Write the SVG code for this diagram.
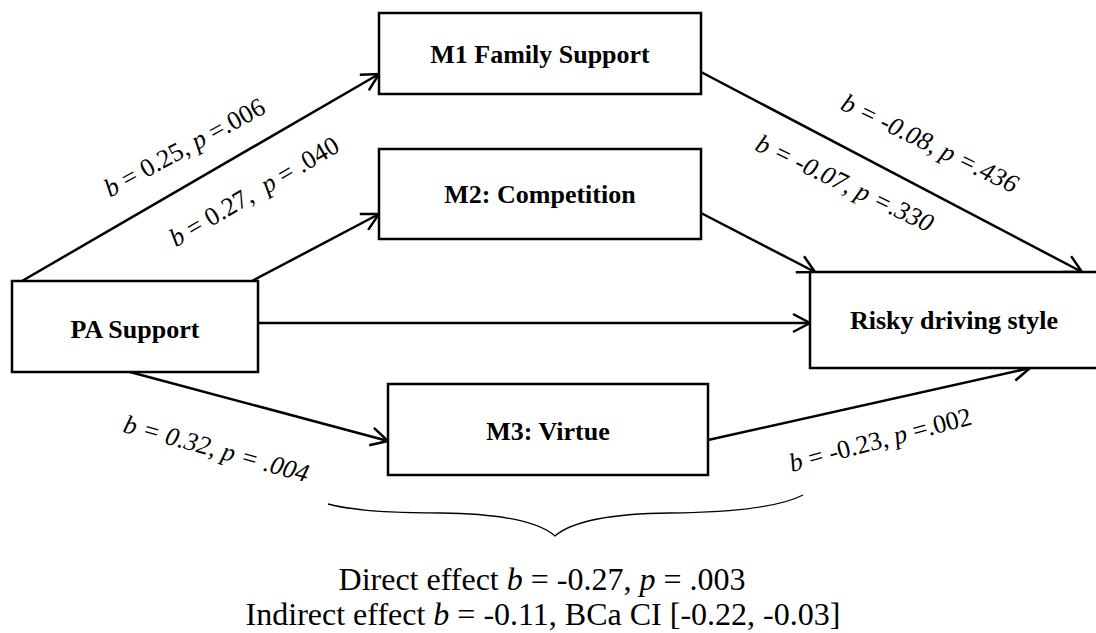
<svg xmlns="http://www.w3.org/2000/svg" width="1096" height="633" viewBox="0 0 1096 633">
<defs>
<style>
.box{fill:#fff;stroke:#000;stroke-width:2.5}
.node{font-family:"Liberation Serif","Times New Roman",serif;font-weight:bold;font-size:26px;text-anchor:middle;fill:#000}
.lbl{font-family:"Liberation Serif","Times New Roman",serif;font-size:26px;text-anchor:middle;fill:#000;white-space:pre}
.it{font-style:italic}
.edge{stroke:#000;stroke-width:2.5;fill:none;marker-end:url(#ah)}
.foot{font-family:"Liberation Serif","Times New Roman",serif;font-size:32px;text-anchor:middle;fill:#000}
</style>
<marker id="ah" markerUnits="userSpaceOnUse" markerWidth="24" markerHeight="24" viewBox="-20 -12 24 24" refX="0" refY="0" orient="auto">
<path d="M-17,-9 L0,0 L-17,9" fill="none" stroke="#000" stroke-width="2.5"/>
</marker>
</defs>
<rect width="1096" height="633" fill="#fff"/>
<g id="connectors">
<line class="edge" x1="22" y1="281" x2="379" y2="74"/>
<line class="edge" x1="252" y1="281" x2="379" y2="214"/>
<line class="edge" x1="258" y1="323" x2="810" y2="323"/>
<line class="edge" x1="130" y1="372" x2="388" y2="441"/>
<line class="edge" x1="701" y1="72" x2="1082" y2="272"/>
<line class="edge" x1="701" y1="213" x2="815" y2="272"/>
<line class="edge" x1="708" y1="440" x2="1030" y2="368"/>
</g>
<g id="m1"><rect class="box" x="379" y="13" width="322" height="81"/><text class="node" x="540" y="63">M1 Family Support</text></g>
<g id="m2"><rect class="box" x="379" y="149" width="322" height="90"/><text class="node" x="540" y="203">M2: Competition</text></g>
<g id="pa"><rect class="box" x="12" y="281" width="246" height="91"/><text class="node" x="135" y="338">PA Support</text></g>
<g id="risky"><rect class="box" x="810" y="272" width="292" height="96"/><text class="node" x="954" y="329">Risky driving style</text></g>
<g id="m3"><rect class="box" x="388" y="384" width="320" height="91"/><text class="node" x="548" y="440">M3: Virtue</text></g>
<g id="labels">
<text class="lbl" transform="translate(188.5,155) rotate(-28.5)"><tspan class="it">b</tspan> = 0.25, <tspan class="it">p</tspan> =.006</text>
<text class="lbl" transform="translate(258.5,199) rotate(-30.4)"><tspan class="it">b</tspan> = 0.27,  <tspan class="it">p</tspan> = .040</text>
<text class="lbl it" transform="translate(926,151) rotate(26)">b = -0.08, p =.436</text>
<text class="lbl it" transform="translate(841,191) rotate(25.5)">b = -0.07, p =.330</text>
<text class="lbl it" transform="translate(214,457) rotate(15.4)">b = 0.32, p = .004</text>
<text class="lbl" transform="translate(882.5,448) rotate(-14.8)"><tspan class="it">b</tspan> = -0.23, <tspan class="it">p</tspan> =.002</text>
</g>
<g id="brace">
<path d="M328,504 Q360,513 440,513 Q530,514 555,536 Q580,514 670,513 Q770,512 803,495" fill="none" stroke="#000" stroke-width="1.3"/>
</g>
<g id="summary">
<text class="foot" x="542" y="590">Direct effect <tspan font-style="italic">b</tspan> = -0.27, <tspan font-style="italic">p</tspan> = .003</text>
<text class="foot" x="543" y="625">Indirect effect <tspan font-style="italic">b</tspan> = -0.11, BCa CI [-0.22, -0.03]</text>
</g>
</svg>
